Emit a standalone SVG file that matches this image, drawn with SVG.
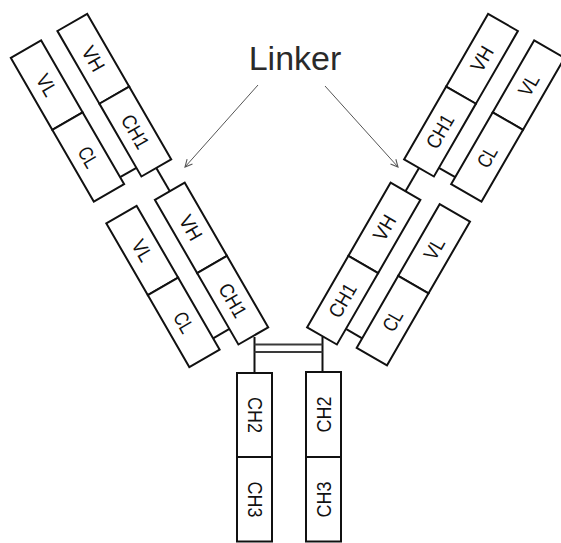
<svg xmlns="http://www.w3.org/2000/svg" width="561" height="543" viewBox="0 0 561 543">
  <defs>
    <style>
      .dom { fill: #ffffff; stroke: #111111; stroke-width: 2; }
      .lbl { font-family: "Liberation Sans", Arial, sans-serif; font-size: 20px; fill: #111111; text-anchor: middle; }
      .bond { stroke: #111111; stroke-width: 2; fill: none; }
      .hinge { stroke: #3a3a3a; stroke-width: 2; fill: none; }
      .ptr { stroke: #555555; stroke-width: 1; fill: none; }
      .title { font-family: "Liberation Sans", Arial, sans-serif; font-size: 34px; fill: #2a2a2a; text-anchor: middle; }
    </style>
    <marker id="open-head" viewBox="0 0 10 10" refX="9" refY="5" markerWidth="9" markerHeight="9" markerUnits="userSpaceOnUse" orient="auto">
      <path d="M1,1 L9,5 L1,9" fill="none" stroke="#555555" stroke-width="1.2"/>
    </marker>
  </defs>

  <rect width="561" height="543" fill="#ffffff"/>

  <!-- connectors: peptide linkers, interchain disulfides, hinge, pointer arrows -->
  <g id="connectors">
    <g transform="translate(72.3,22.4) rotate(-30)">
      <line class="bond" x1="0" y1="168" x2="0" y2="195"/>
      <line class="bond" x1="-36" y1="158" x2="-17.2" y2="158"/>
      <line class="bond" x1="-36" y1="344" x2="-17.2" y2="344"/>
    </g>
    <g transform="translate(503,22.4) rotate(30)">
      <line class="bond" x1="0" y1="168" x2="0" y2="195"/>
      <line class="bond" x1="36" y1="158" x2="17.2" y2="158"/>
      <line class="bond" x1="36" y1="344" x2="17.2" y2="344"/>
    </g>
    <line class="bond" x1="254.5" y1="337" x2="254.5" y2="373"/>
    <line class="bond" x1="322.5" y1="337" x2="322.5" y2="372"/>
    <line class="hinge" x1="254.5" y1="344.5" x2="322.5" y2="344.5"/>
    <line class="hinge" x1="254.5" y1="352" x2="322.5" y2="352"/>
    <line class="ptr" x1="258" y1="85" x2="185" y2="167" marker-end="url(#open-head)"/>
    <line class="ptr" x1="325" y1="86" x2="398" y2="167" marker-end="url(#open-head)"/>
  </g>

  <text id="linker-label" class="title" x="295" y="70">Linker</text>

  <!-- left arm: two Fab units on a shared axis tilted 30 degrees -->
  <g transform="translate(72.3,22.4) rotate(-30)">
    <g id="L1-VH"><rect class="dom" x="-17.2" y="0" width="34.4" height="84"/>
      <text class="lbl" x="0" y="42" dy="0.35em" transform="rotate(90 0 42)" textLength="26" lengthAdjust="spacingAndGlyphs">VH</text></g>
    <g id="L1-CH1"><rect class="dom" x="-17.2" y="84" width="34.4" height="84"/>
      <text class="lbl" x="0" y="126" dy="0.35em" transform="rotate(90 0 126)" textLength="36" lengthAdjust="spacingAndGlyphs">CH1</text></g>
    <g id="L1-VL"><rect class="dom" x="-71" y="0" width="35" height="83"/>
      <text class="lbl" x="-53.5" y="41.5" dy="0.35em" transform="rotate(90 -53.5 41.5)" textLength="22" lengthAdjust="spacingAndGlyphs">VL</text></g>
    <g id="L1-CL"><rect class="dom" x="-71" y="83" width="35" height="83"/>
      <text class="lbl" x="-53.5" y="124.5" dy="0.35em" transform="rotate(90 -53.5 124.5)" textLength="21" lengthAdjust="spacingAndGlyphs">CL</text></g>

    <g id="L2-VH"><rect class="dom" x="-17.2" y="195" width="34.4" height="84.5"/>
      <text class="lbl" x="0" y="237" dy="0.35em" transform="rotate(90 0 237)" textLength="26" lengthAdjust="spacingAndGlyphs">VH</text></g>
    <g id="L2-CH1"><rect class="dom" x="-17.2" y="279.5" width="34.4" height="82.5"/>
      <text class="lbl" x="0" y="321" dy="0.35em" transform="rotate(90 0 321)" textLength="36" lengthAdjust="spacingAndGlyphs">CH1</text></g>
    <g id="L2-VL"><rect class="dom" x="-71" y="191" width="35" height="83"/>
      <text class="lbl" x="-53.5" y="232.5" dy="0.35em" transform="rotate(90 -53.5 232.5)" textLength="22" lengthAdjust="spacingAndGlyphs">VL</text></g>
    <g id="L2-CL"><rect class="dom" x="-71" y="274" width="35" height="83"/>
      <text class="lbl" x="-53.5" y="315.5" dy="0.35em" transform="rotate(90 -53.5 315.5)" textLength="21" lengthAdjust="spacingAndGlyphs">CL</text></g>
  </g>

  <!-- right arm: mirror image of the left arm -->
  <g transform="translate(503,22.4) rotate(30)">
    <g id="R1-VH"><rect class="dom" x="-17.2" y="0" width="34.4" height="84"/>
      <text class="lbl" x="0" y="42" dy="0.35em" transform="rotate(-90 0 42)" textLength="26" lengthAdjust="spacingAndGlyphs">VH</text></g>
    <g id="R1-CH1"><rect class="dom" x="-17.2" y="84" width="34.4" height="84"/>
      <text class="lbl" x="0" y="126" dy="0.35em" transform="rotate(-90 0 126)" textLength="36" lengthAdjust="spacingAndGlyphs">CH1</text></g>
    <g id="R1-VL"><rect class="dom" x="36" y="0" width="35" height="83"/>
      <text class="lbl" x="53.5" y="41.5" dy="0.35em" transform="rotate(-90 53.5 41.5)" textLength="22" lengthAdjust="spacingAndGlyphs">VL</text></g>
    <g id="R1-CL"><rect class="dom" x="36" y="83" width="35" height="83"/>
      <text class="lbl" x="53.5" y="124.5" dy="0.35em" transform="rotate(-90 53.5 124.5)" textLength="21" lengthAdjust="spacingAndGlyphs">CL</text></g>

    <g id="R2-VH"><rect class="dom" x="-17.2" y="195" width="34.4" height="84.5"/>
      <text class="lbl" x="0" y="237" dy="0.35em" transform="rotate(-90 0 237)" textLength="26" lengthAdjust="spacingAndGlyphs">VH</text></g>
    <g id="R2-CH1"><rect class="dom" x="-17.2" y="279.5" width="34.4" height="82.5"/>
      <text class="lbl" x="0" y="321" dy="0.35em" transform="rotate(-90 0 321)" textLength="36" lengthAdjust="spacingAndGlyphs">CH1</text></g>
    <g id="R2-VL"><rect class="dom" x="36" y="189" width="35" height="83"/>
      <text class="lbl" x="53.5" y="230.5" dy="0.35em" transform="rotate(-90 53.5 230.5)" textLength="22" lengthAdjust="spacingAndGlyphs">VL</text></g>
    <g id="R2-CL"><rect class="dom" x="36" y="272" width="35" height="83"/>
      <text class="lbl" x="53.5" y="313.5" dy="0.35em" transform="rotate(-90 53.5 313.5)" textLength="21" lengthAdjust="spacingAndGlyphs">CL</text></g>
  </g>

  <!-- Fc stem -->
  <g id="FcL-CH2"><rect class="dom" x="237" y="373" width="35" height="84"/>
    <text class="lbl" x="254.5" y="415" dy="0.35em" transform="rotate(90 254.5 415)" textLength="36" lengthAdjust="spacingAndGlyphs">CH2</text></g>
  <g id="FcL-CH3"><rect class="dom" x="237" y="457" width="35" height="84.5"/>
    <text class="lbl" x="254.5" y="499.5" dy="0.35em" transform="rotate(90 254.5 499.5)" textLength="36" lengthAdjust="spacingAndGlyphs">CH3</text></g>
  <g id="FcR-CH2"><rect class="dom" x="306" y="372" width="35" height="85"/>
    <text class="lbl" x="323.5" y="414.5" dy="0.35em" transform="rotate(-90 323.5 414.5)" textLength="36" lengthAdjust="spacingAndGlyphs">CH2</text></g>
  <g id="FcR-CH3"><rect class="dom" x="306" y="457" width="35" height="84.5"/>
    <text class="lbl" x="323.5" y="499.5" dy="0.35em" transform="rotate(-90 323.5 499.5)" textLength="36" lengthAdjust="spacingAndGlyphs">CH3</text></g>
</svg>
